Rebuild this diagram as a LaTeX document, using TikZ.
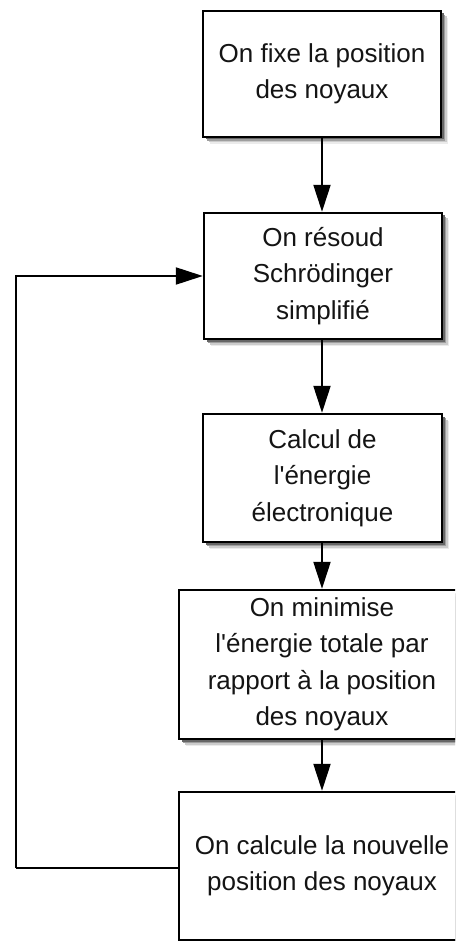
\documentclass[tikz,border=0pt]{standalone}
\usepackage{fontspec}
\setmainfont{Liberation Sans}[Ligatures=TeXOff]
\usetikzlibrary{arrows.meta,shadows}

\tikzset{
  softshadow/.style={
    general shadow={shadow xshift=7pt, shadow yshift=-7pt, fill=black!8},
    general shadow={shadow xshift=5.5pt, shadow yshift=-5.5pt, fill=black!20},
    general shadow={shadow xshift=4pt, shadow yshift=-4pt, fill=black!38},
    general shadow={shadow xshift=2.5pt, shadow yshift=-2.5pt, fill=black!60}},
  stepbox/.style={softshadow, draw=black, line width=2.4pt, fill=white, align=center,
    font=\fontsize{26}{36.5}\selectfont, text=black!92},
  flow/.style={line width=2pt, -{Triangle[width=17pt,length=27pt]}},
  link/.style={line width=2pt}
}

\begin{document}
\begin{tikzpicture}[x=1pt,y=1pt]
  \useasboundingbox (0,0) rectangle (455,-941);
  \clip (0,0) rectangle (455,-941);
  \fill[white] (0,0) rectangle (455,-941);

  % process steps
  \node[stepbox, minimum width=238pt, minimum height=126pt] (b1) at (322,-74)
    {On fixe la position\\des noyaux};
  \node[stepbox, minimum width=238pt, minimum height=126pt] (b2) at (323,-276)
    {On résoud\\Schrödinger\\simplifié};
  \node[stepbox, minimum width=239pt, minimum height=128pt] (b3) at (322.5,-478)
    {Calcul de\\l'énergie\\électronique};
  \node[stepbox, minimum width=286pt, minimum height=149pt] (b4) at (322,-664.5)
    {On minimise\\l'énergie totale par\\rapport à la position\\des noyaux};
  \node[stepbox, minimum width=286pt, minimum height=148pt] (b5) at (322,-866)
    {On calcule la nouvelle\\position des noyaux};

  % main sequence
  \draw[flow] (b1.south -| 322,0) -- (b2.north -| 322,0);
  \draw[flow] (b2.south -| 322,0) -- (b3.north -| 322,0);
  \draw[flow] (b3.south -| 322,0) -- (b4.north -| 322,0);
  \draw[flow] (b4.south -| 322,0) -- (b5.north -| 322,0);

  % feedback loop back to the Schrödinger step
  \coordinate (loop) at (16,-868);
  \draw[link] (b5.west |- loop) -- (loop);
  \draw[flow] (loop) |- (b2.west);
\end{tikzpicture}
\end{document}
